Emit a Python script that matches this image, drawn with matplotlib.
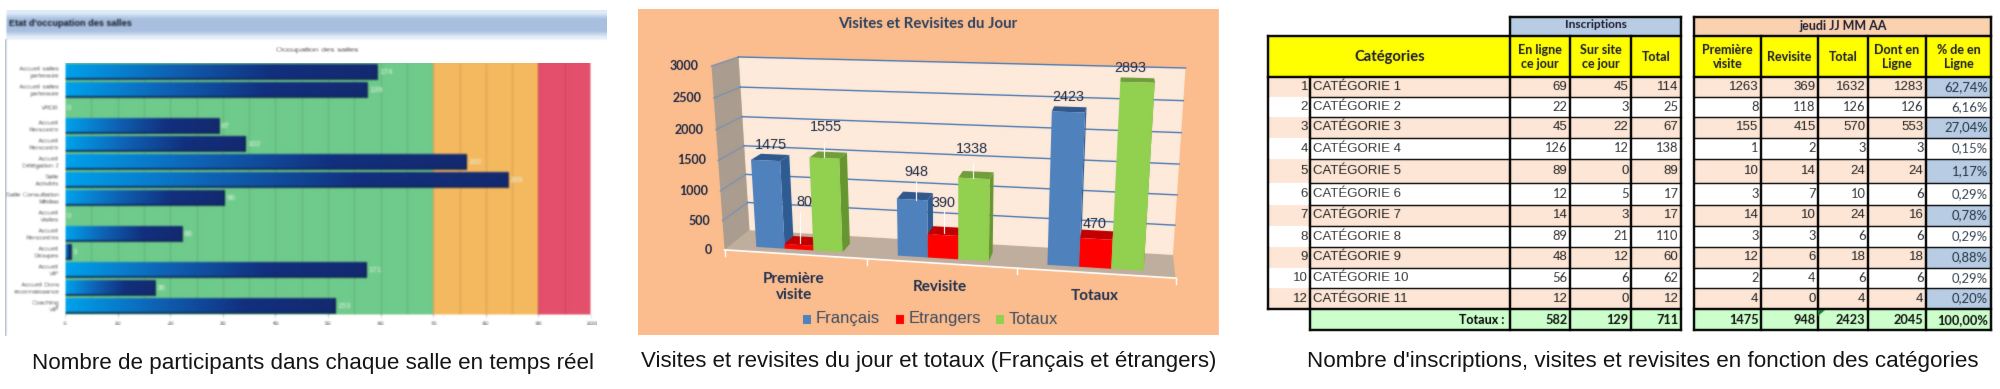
import numpy as np
import matplotlib
matplotlib.use('Agg')
import matplotlib.pyplot as plt
from matplotlib.colors import LinearSegmentedColormap
from matplotlib.patches import Polygon, Rectangle

W, H = 2000, 389
ARIAL = 'Liberation Sans'
CALIBRI = 'Lato'

# left chart
room_names = ['Accueil salles\npartenaire', 'Accueil salles\npartenaire', 'VRDB',
              'Accueil\nRencontre', 'Accueil\nRencontre', 'Accueil\nDélégation 2',
              'Salle\nActivités', 'Salle Consultation\nMédias', 'Accueil\nVisites',
              'Accueil\nRencontres', 'Accueil\nGroupes', 'Accueil\nVIP',
              'Accueil Dons\nreconnaissance', 'Coaching\nVIP']
room_values = [59.3, 57.4, 0, 29.2, 34.3, 76.3, 84.2, 30.3, 0, 22.2, 1.1, 57.3, 17.1, 51.4]
room_labels = ['174', '139', '0', '87', '102', '192', '209', '90', '0', '66', '3', '171', '36', '153']

# middle chart
visit_groups = ['Première\nvisite', 'Revisite', 'Totaux']
visit_fr = [1475, 948, 2423]
visit_et = [80, 390, 470]
visit_tot = [1555, 1338, 2893]

# table
cat_nums = ['1', '2', '3', '4', '5', '6', '7', '8', '9', '10', '12']
cat_names = ['CATÉGORIE %d' % i for i in range(1, 12)]
en_ligne = [69, 22, 45, 126, 89, 12, 14, 89, 48, 56, 12]
sur_site = [45, 3, 22, 12, 0, 5, 3, 21, 12, 6, 0]
insc_total = [114, 25, 67, 138, 89, 17, 17, 110, 60, 62, 12]
premiere = [1263, 8, 155, 1, 10, 3, 14, 3, 12, 2, 4]
revisite = [369, 118, 415, 2, 14, 7, 10, 3, 6, 4, 0]
vis_total = [1632, 126, 570, 3, 24, 10, 24, 6, 18, 6, 4]
dont_ligne = [1283, 126, 553, 3, 24, 6, 16, 6, 18, 6, 4]
pct_ligne = ['62,74%', '6,16%', '27,04%', '0,15%', '1,17%', '0,29%', '0,78%', '0,29%', '0,88%', '0,29%', '0,20%']
totals_row = ['582', '129', '711', '1475', '948', '2423', '2045', '100,00%']


def blur(sigma):
    r = int(3 * sigma) + 1
    k = np.exp(-0.5 * (np.arange(-r, r + 1) / sigma) ** 2)
    k = k / k.sum()

    def f(img, dpi):
        out = np.pad(img, ((r, r), (r, r), (0, 0)), mode='edge')
        out = np.apply_along_axis(lambda a: np.convolve(a, k, mode='same'), 0, out)
        out = np.apply_along_axis(lambda a: np.convolve(a, k, mode='same'), 1, out)
        return out[r:-r, r:-r], 0, 0
    return f


def px_axes(x0, y0, x1, y1):
    return fig.add_axes([x0 / W, 1 - y1 / H, (x1 - x0) / W, (y1 - y0) / H])


fig = plt.figure(figsize=(W / 100, H / 100), dpi=100, facecolor='white')

# ---------- left panel ----------
ax_head = px_axes(0, 0, 630, 345)
ax_head.axis('off')
band = np.array([[0.88, 0.93, 0.98], [0.66, 0.75, 0.88], [0.66, 0.75, 0.88], [0.66, 0.75, 0.88], [0.90, 0.94, 0.98]])
ax_head.imshow(band[:, None, :], extent=(6, 607, 40, 10), aspect='auto', interpolation='bilinear')
ax_head.set_xlim(0, 630)
ax_head.set_ylim(345, 0)
ax_head.plot([6, 6], [40, 335], color='#A8B4C4', lw=1.2)
ax_head.text(9, 23, "Etat d'occupation des salles", fontsize=6.6, fontweight='bold', family=ARIAL, va='center', color='#101820')
ax_head.text(317, 50, 'Occupation des salles', fontsize=6, family=ARIAL, va='center', ha='center', color='#303030')
ax_head.set_agg_filter(blur(0.9))

ax = px_axes(65, 63, 591, 315)
y = np.arange(len(room_values))
ax.axvspan(0, 70, color='#6FCB8B', lw=0)
ax.axvspan(70, 90, color='#F5B95F', lw=0)
ax.axvspan(90, 100, color='#E4506B', lw=0)
ax.vlines(np.arange(5, 100, 5), -0.5, 13.5, color='black', alpha=0.10, lw=1)
bars = ax.barh(y, room_values, height=0.82, color='none')
grad_cmap = LinearSegmentedColormap.from_list('g', ['#00A2EC', '#0F62B4', '#12307E', '#142A70'])
for b, v in zip(bars, room_values):
    if v <= 0:
        continue
    bb = b.get_bbox()
    ax.imshow(np.linspace(0, 1, 200)[None, :], extent=(0, v, bb.y1, bb.y0), cmap=grad_cmap, aspect='auto', zorder=3)
    ax.plot([0, v], [bb.y1, bb.y1], color='#0B1F50', lw=1.2, zorder=3.5)
    ax.plot([v, v], [bb.y0, bb.y1], color='#0B1F50', lw=1.2, zorder=3.5)
for yi, v, s in zip(y, room_values, room_labels):
    ax.text(v + 0.4, yi, s, color='#E8F5E8', fontsize=5.8, family=ARIAL, va='center', zorder=4)
ax.set_xlim(0, 100)
ax.set_ylim(13.5, -0.5)
ax.set_yticks(y, room_names, fontsize=4.8, family=ARIAL, color='#404040', linespacing=1.0)
ax.set_xticks(np.arange(0, 101, 10))
ax.tick_params(axis='x', labelsize=4.6, colors='#404040', length=2, width=0.5, pad=2)
ax.tick_params(axis='y', length=0, pad=4)
for s in ax.spines.values():
    s.set_visible(False)
ax.set_agg_filter(blur(1.0))

# ---------- page axes in pixels: middle panel + table ----------
page = px_axes(630, 0, W, 345)
page.set_xlim(630, W)
page.set_ylim(345, 0)
page.axis('off')
page.set_agg_filter(blur(0.45))

page.add_patch(Rectangle((638, 9), 581, 326, fc='#FBBD8E', ec='none'))

# camera fitted on the corners of the 3D box: u across, d depth (1 = back), v height
model = np.array([[0, 1, 1], [3, 1, 1], [0, 1, 0], [3, 1, 0], [0, 0, 0], [3, 0, 0], [0, 0, 1]], float)
screen = np.array([[739, 57], [1185.5, 68], [749, 230], [1173, 255], [725, 250], [1175.5, 278], [711, 66]], float)
rows = []
for (a, b, c), (sx, sy) in zip(model, screen):
    rows.append([a, b, c, 1, 0, 0, 0, 0, -sx * a, -sx * b, -sx * c, -sx])
    rows.append([0, 0, 0, 0, a, b, c, 1, -sy * a, -sy * b, -sy * c, -sy])
cam = np.linalg.svd(np.array(rows))[2][-1].reshape(3, 4)


def proj(u, d, val):
    p = cam @ np.array([u, d, val / 3000.0, 1.0])
    return p[0] / p[2], p[1] / p[2]


def face(pts, color, z=2):
    page.add_patch(Polygon([proj(*q) for q in pts], closed=True, fc=color, ec='none', zorder=z))


face([(0, 0, 0), (3, 0, 0), (3, 1, 0), (0, 1, 0)], '#BFAE9E')
face([(0, 1, 0), (3, 1, 0), (3, 1, 3000), (0, 1, 3000)], '#FDEADA')
face([(0, 0, 0), (0, 1, 0), (0, 1, 3000), (0, 0, 3000)], '#AA9D8F')
for val in range(0, 3001, 500):
    if val > 0:
        page.plot(*zip(proj(0, 0, val), proj(0, 1, val)), color='#7E92AE', lw=1, zorder=3)
        page.plot(*zip(proj(0, 1, val), proj(3, 1, val)), color='#4A78B4', lw=1, zorder=3)
    page.text(proj(0, 0, val)[0] - 12.5, proj(0, 0, val)[1], str(val), fontsize=9, fontweight='bold',
              family=CALIBRI, color='#1F2A44', ha='right', va='center')
page.plot(*zip(proj(0, 0, 0), proj(3, 0, 0)), color='white', lw=1.2, zorder=3)
for u in range(4):
    p = proj(u, 0, 0)
    page.plot([p[0], p[0]], [p[1], p[1] + 6], color='white', lw=1, zorder=3)

series = [(visit_fr, '#4F81BD', '#2E5B92', '#31588C'),
          (visit_et, '#FF0000', '#B00000', '#C00000'),
          (visit_tot, '#92D050', '#66962F', '#6F9E3A')]
bar_w = 0.205
d0, d1 = 0.22, 0.62
for g in range(3):
    for s, (vals, cf, cs, ct) in enumerate(series):
        u0 = g + 0.19 + s * bar_w
        u1 = u0 + bar_w
        v = vals[g]
        z = 4 + g + s * 0.1
        face([(u1, d0, 0), (u1, d1, 0), (u1, d1, v), (u1, d0, v)], cs, z)
        face([(u0, d0, v), (u1, d0, v), (u1, d1, v), (u0, d1, v)], ct, z)
        face([(u0, d0, 0), (u1, d0, 0), (u1, d0, v), (u0, d0, v)], cf, z)

label_pos = [(771, 145), (916, 172), (1068, 97), (804.5, 202), (943, 203), (1095, 224), (825.5, 127), (972, 149), (1130, 68)]
all_vals = visit_fr + visit_et + visit_tot
for (lx, ly), v in zip(label_pos, all_vals):
    page.text(lx, ly, str(v), fontsize=10.4, family=ARIAL, color='#1F2A44', ha='center', va='center', zorder=9)
for x0, y0, y1 in [(824, 143, 157), (800.5, 212, 243), (916, 182, 200), (944, 210, 233), (973, 163, 178)]:
    page.plot([x0, x0], [y0, y1], color='white', lw=0.8, zorder=9)

page.text(927.5, 24, 'Visites et Revisites du Jour', fontsize=10.8, fontweight='bold', family=CALIBRI,
          color='#2A3F5F', ha='center', va='center')
for name, (cx, cy) in zip(visit_groups, [(794, 287), (940, 287), (1095, 296)]):
    page.text(cx, cy, name, fontsize=11, fontweight='bold', family=CALIBRI, color='#22304F',
              ha='center', va='center', linespacing=1.25)
for name, col, sx in zip(['Français', 'Etrangers', 'Totaux'], ['#4F81BD', '#FF0000', '#92D050'], [807, 900, 1000]):
    page.add_patch(Rectangle((sx - 4, 315), 8, 9, fc=col, ec='none'))
    page.text(sx + 9, 319, name, fontsize=12, family=ARIAL, color='#3C4A60', va='center')

# table
c_left = [1268, 1310, 1510, 1570, 1631, 1681]
c_right = [1694, 1761, 1818, 1868, 1926, 1991]
r_edges = [77, 97, 117, 138, 159, 183, 205, 226, 247, 268, 288, 309]
LW = 1.7
CELL = 9.5


def rect(x0, y0, x1, y1, col):
    page.add_patch(Rectangle((x0, y0), x1 - x0, y1 - y0, fc=col, ec='none', zorder=2))


def hline(xa, xb, yy, lw=LW, col='black'):
    page.plot([xa, xb], [yy, yy], color=col, lw=lw, zorder=5, solid_capstyle='projecting')


def vline(xx, ya, yb, lw=LW):
    page.plot([xx, xx], [ya, yb], color='black', lw=lw, zorder=6, solid_capstyle='projecting')


rect(1510, 17, 1681, 36, '#B8CCE4')
rect(1694, 17, 1991, 36, '#FBD2B0')
rect(1268, 36, 1681, 77, '#FFFF00')
rect(1694, 36, 1991, 77, '#FFFF00')
rect(1310, 309, 1681, 330, '#CCFFCC')
rect(1694, 309, 1991, 330, '#CCFFCC')

for i in range(len(cat_names)):
    t, b = r_edges[i], r_edges[i + 1]
    if i % 2 == 0:
        rect(1268, t, 1681, b, '#FDE6D6')
        rect(1694, t, 1926, b, '#FDE6D6')
        rect(1926, t, 1991, b, '#B8CCE4')
    ym = (t + b) / 2
    page.text(1308, ym, cat_nums[i], fontsize=CELL, family=ARIAL, ha='right', va='center', color='#202020', zorder=7)
    page.text(1313, ym, cat_names[i], fontsize=CELL, family=ARIAL, ha='left', va='center', color='#202020', zorder=7)
    f = ARIAL if i % 2 == 0 else CALIBRI
    fs = CELL if i % 2 == 0 else CELL - 0.2
    cells = [en_ligne[i], sur_site[i], insc_total[i]]
    for x, v in zip(c_left[3:], cells):
        page.text(x - 2.5, ym, str(v), fontsize=fs, family=f, ha='right', va='center', color='#202020', zorder=7)
    cells = [premiere[i], revisite[i], vis_total[i], dont_ligne[i]]
    for x, v in zip(c_right[1:], cells):
        page.text(x - 2.5, ym, str(v), fontsize=fs, family=f, ha='right', va='center', color='#202020', zorder=7)
    page.text(1991 - 3, ym, pct_ligne[i], fontsize=9.4, family=CALIBRI, ha='right', va='center', color='#203040', zorder=7)
    if i < len(cat_names) - 1:
        hline(1310, 1681, b, 1)
        hline(1694, 1991, b, 1)

hdr = dict(fontweight='bold', family=CALIBRI, ha='center', va='center', color='#1A1A30', zorder=7, linespacing=1.3)
page.text(1596, 25, 'Inscriptions', fontsize=8.6, **hdr)
page.text(1843, 26, 'jeudi JJ MM AA', fontsize=9, **hdr)
page.text(1390, 57, 'Catégories', fontsize=10.6, **hdr)
for x0, x1, s in [(1510, 1570, 'En ligne\nce jour'), (1570, 1631, 'Sur site\nce jour'), (1631, 1681, 'Total'),
                  (1694, 1761, 'Première\nvisite'), (1761, 1818, 'Revisite'), (1818, 1868, 'Total'),
                  (1868, 1926, 'Dont en\nLigne'), (1926, 1991, '% de en\nLigne')]:
    page.text((x0 + x1) / 2, 57, s, fontsize=9, **hdr)
page.text(1505, 320, 'Totaux :', fontsize=9, fontweight='bold', family=CALIBRI, ha='right', va='center', color='black', zorder=7)
for x, s in zip(c_left[3:] + c_right[1:], totals_row):
    page.text(x - 2.5, 320, s, fontsize=9.2, fontweight='bold', family=CALIBRI, ha='right', va='center', color='#101010', zorder=7)
page.add_patch(Polygon([(1818, 310), (1825, 310), (1818, 316)], fc='#1E7B30', ec='none', zorder=8))

# grid of the table
hline(1510, 1681, 17)
hline(1694, 1991, 17)
hline(1268, 1681, 36)
hline(1694, 1991, 36)
hline(1268, 1681, 77)
hline(1694, 1991, 77)
hline(1268, 1681, 309)
hline(1694, 1991, 309)
hline(1310, 1681, 330)
hline(1694, 1991, 330)
vline(1268, 36, 309)
vline(1310, 77, 330)
vline(1510, 17, 330)
vline(1681, 17, 330)
vline(1570, 36, 330)
vline(1631, 36, 330)
for x in c_right:
    vline(x, 36 if x not in (1694, 1991) else 17, 330)

# captions
fig.text(312.5 / W, 1 - 363 / H, 'Nombre de participants dans chaque salle en temps réel', fontsize=16.1,
         family=ARIAL, ha='center', va='center', color='#151515')
fig.text(929 / W, 1 - 362 / H, 'Visites et revisites du jour et totaux (Français et étrangers)', fontsize=16,
         family=ARIAL, ha='center', va='center', color='#151515')
fig.text(1643 / W, 1 - 362 / H, "Nombre d'inscriptions, visites et revisites en fonction des catégories", fontsize=16.1,
         family=ARIAL, ha='center', va='center', color='#151515')

fig.savefig('out.png', dpi=100)
